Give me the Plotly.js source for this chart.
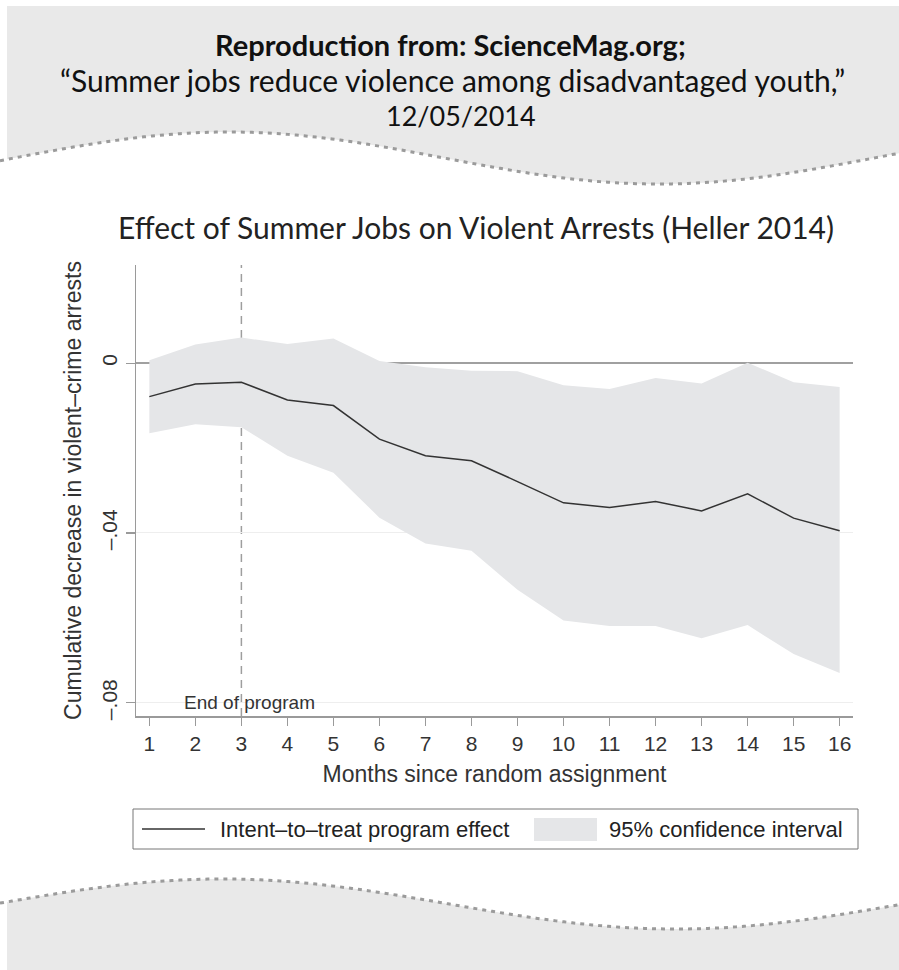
<!DOCTYPE html>
<html>
<head>
<meta charset="utf-8">
<script src="https://cdn.plot.ly/plotly-3.0.1.min.js"></script>
<style>
html,body{margin:0;padding:0;background:#fff;}
#chart{width:899px;height:970px;}
</style>
</head>
<body>
<div id="chart"></div>
<script>
// ---- data ----
const months = [1,2,3,4,5,6,7,8,9,10,11,12,13,14,15,16];
const ittEffect = [-0.0079,-0.0049,-0.0045,-0.0087,-0.0100,-0.0179,-0.0218,-0.0230,-0.0279,-0.0329,-0.0340,-0.0326,-0.0348,-0.0308,-0.0365,-0.0395];
const ciUpper = [0.0007,0.0044,0.0060,0.0045,0.0058,0.0005,-0.0010,-0.0018,-0.0019,-0.0052,-0.0061,-0.0035,-0.0048,0.0001,-0.0045,-0.0056];
const ciLower = [-0.0165,-0.0144,-0.0151,-0.0218,-0.0258,-0.0364,-0.0425,-0.0442,-0.0534,-0.0606,-0.0619,-0.0619,-0.0648,-0.0617,-0.0685,-0.0730];
const yTickVals = [0,-0.04,-0.08];
const yTickText = ['0','\u2013.04','\u2013.08'];
const programEndMonth = 3;
const legendNames = ['Intent\u2013to\u2013treat program effect','95% confidence interval'];

// ---- geometry helpers (pixel -> paper) ----
const FW = 899, FH = 970;
const M = {l:136, r:46, t:265, b:254};
const PW = FW - M.l - M.r, PH = FH - M.t - M.b;
const px = x => (x - M.l) / PW;
const py = y => (FH - M.b - y) / PH;

function wave(x, cy, amp, peakX, half){ return cy - amp*Math.cos(Math.PI*(x-peakX)/half); }
function wavePts(x0, x1, cy, amp, peakX, half){
  const pts=[]; for(let x=x0;x<=x1;x+=4){pts.push([x, wave(x,cy,amp,peakX,half)]);}
  if(pts[pts.length-1][0]!==x1) pts.push([x1, wave(x1,cy,amp,peakX,half)]);
  return pts;
}
const P = (p)=> px(p[0]).toFixed(5)+','+py(p[1]).toFixed(5);

// header band
const topW = wavePts(7, 899, 158, 26, 229, 430);
let headerPath = 'M'+P([7,6])+' L'+P([899,6]);
for(let i=topW.length-1;i>=0;i--) headerPath += ' L'+P(topW[i]);
headerPath += ' Z';
const topLineW = wavePts(0, 899, 158, 26, 229, 430);
let topLine = 'M'+topLineW.map(P).join(' L');

// footer band
const botW = wavePts(7, 899, 904, 25, 222, 454);
let footerPath = 'M'+botW.map(P).join(' L') + ' L'+P([899,970])+' L'+P([7,970])+' Z';
const botLineW = wavePts(0, 899, 904, 25, 222, 454);
let botLine = 'M'+botLineW.map(P).join(' L');

const BAND = '#e5e6e8', LINEC = '#333333';

const shapes = [
  {type:'path', xref:'paper', yref:'paper', path:headerPath, fillcolor:'#e9e9e9', line:{width:0}, layer:'below'},
  {type:'path', xref:'paper', yref:'paper', path:topLine, line:{color:'#9b9b9b', width:3, dash:'4px,5px'}, layer:'below'},
  {type:'path', xref:'paper', yref:'paper', path:footerPath, fillcolor:'#e9e9e9', line:{width:0}, layer:'below'},
  {type:'path', xref:'paper', yref:'paper', path:botLine, line:{color:'#9b9b9b', width:3, dash:'4px,5px'}, layer:'below'},
  {type:'line', xref:'x', yref:'paper', x0:programEndMonth, x1:programEndMonth, y0:0, y1:1, line:{color:'#9e9e9e', width:1.5, dash:'8px,6px'}, layer:'below'},
  // legend box
  {type:'rect', xref:'paper', yref:'paper', x0:px(133), x1:px(858), y0:py(849), y1:py(809), line:{color:'#777', width:1}, fillcolor:'#ffffff', layer:'above'},
  {type:'line', xref:'paper', yref:'paper', x0:px(142), x1:px(205), y0:py(829), y1:py(829), line:{color:LINEC, width:1.4}, layer:'above'},
  {type:'rect', xref:'paper', yref:'paper', x0:px(534), x1:px(597), y0:py(841), y1:py(818), line:{width:0}, fillcolor:BAND, layer:'above'}
];

const hdrFont = 'Lato, "Open Sans", sans-serif';
const chartFont = '"Liberation Sans", Arial, sans-serif';

const annotations = [
  {xref:'paper', yref:'paper', x:px(450), y:py(44), xanchor:'center', yanchor:'middle', showarrow:false,
   text:'<b>Reproduction from: ScienceMag.org;</b>', font:{family:hdrFont, size:29, color:'#111'}},
  {xref:'paper', yref:'paper', x:px(452), y:py(80), xanchor:'center', yanchor:'middle', showarrow:false,
   text:'\u201cSummer jobs reduce violence among disadvantaged youth,\u201d', font:{family:hdrFont, size:30, color:'#111'}},
  {xref:'paper', yref:'paper', x:px(461), y:py(115), xanchor:'center', yanchor:'middle', showarrow:false,
   text:'12/05/2014', font:{family:hdrFont, size:27, color:'#111'}},
  {xref:'x', yref:'y', x:3.17, y:-0.08, xanchor:'center', yanchor:'middle', showarrow:false,
   text:'End of program', font:{family:chartFont, size:19, color:'#333'}},
  {xref:'paper', yref:'paper', x:px(218), y:py(829), xanchor:'left', yanchor:'middle', showarrow:false,
   text:legendNames[0], font:{family:chartFont, size:22, color:'#222'}},
  {xref:'paper', yref:'paper', x:px(607), y:py(829), xanchor:'left', yanchor:'middle', showarrow:false,
   text:legendNames[1], font:{family:chartFont, size:22, color:'#222'}}
];

const traces = [
  {x:months, y:ciUpper, type:'scatter', mode:'lines', line:{width:0, color:'rgba(0,0,0,0)'}, showlegend:false, hoverinfo:'skip'},
  {x:months, y:ciLower, type:'scatter', mode:'lines', fill:'tonexty', fillcolor:BAND, line:{width:0, color:'rgba(0,0,0,0)'},
   name:legendNames[1]},
  {x:months, y:ittEffect, type:'scatter', mode:'lines', line:{color:LINEC, width:1.5}, name:legendNames[0]}
];

const layout = {
  width:FW, height:FH,
  margin:M,
  paper_bgcolor:'#ffffff', plot_bgcolor:'#ffffff',
  font:{family:chartFont, color:'#333'},
  title:{text:'Effect of Summer Jobs on Violent Arrests (Heller 2014)', font:{family:hdrFont, size:30, color:'#222'},
         x:476/FW, xanchor:'center', xref:'container', y:1-228/FH, yanchor:'middle', yref:'container'},
  xaxis:{range:[0.71,16.29], tickvals:months, ticktext:months.map(String), ticks:'outside', ticklen:8, tickwidth:1.2, tickcolor:'#9a9a9a',
         showline:true, linecolor:'#9a9a9a', linewidth:1.5, showgrid:false, zeroline:false,
         tickfont:{family:chartFont, size:21, color:'#333'},
         title:{text:'Months since random assignment', font:{family:chartFont, size:23, color:'#333'}, standoff:12}},
  yaxis:{range:[-0.0831,0.0231], tickvals:yTickVals, ticktext:yTickText, tickangle:-90, ticks:'outside', ticklen:9, tickwidth:1.2, tickcolor:'#9a9a9a',
         showline:true, linecolor:'#9a9a9a', linewidth:1.5, showgrid:true, gridcolor:'#eeeeee', gridwidth:1,
         zeroline:true, zerolinecolor:'#a0a0a0', zerolinewidth:1.6,
         tickfont:{family:chartFont, size:21, color:'#333'},
         title:{text:'Cumulative decrease in violent\u2013crime arrests', font:{family:chartFont, size:23, color:'#333'}, standoff:10}},
  showlegend:false,
  shapes:shapes,
  annotations:annotations
};

Plotly.newPlot('chart', traces, layout, {displayModeBar:false, staticPlot:true});
</script>
</body>
</html>
